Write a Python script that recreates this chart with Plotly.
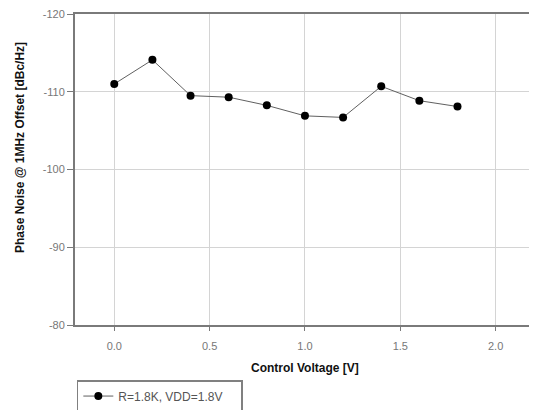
import plotly.graph_objects as go

control_voltage = [0.0, 0.2, 0.4, 0.6, 0.8, 1.0, 1.2, 1.4, 1.6, 1.8]
phase_noise = [-111.0, -114.1, -109.5, -109.3, -108.25, -106.9, -106.7, -110.7, -108.85, -108.1]
series_name = "R=1.8K, VDD=1.8V"

x_ticks = [0.0, 0.5, 1.0, 1.5, 2.0]
x_tick_labels = ["0.0", "0.5", "1.0", "1.5", "2.0"]
y_ticks = [-120, -110, -100, -90, -80]
y_tick_labels = ["-120", "-110", "-100", "-90", "-80"]

FONT = "Liberation Sans, Arial, sans-serif"

fig = go.Figure()
fig.add_trace(go.Scatter(
    x=control_voltage, y=phase_noise, mode="lines+markers", name=series_name,
    line=dict(color="#606060", width=1),
    marker=dict(color="black", size=8, symbol="circle"),
))

fig.update_layout(
    width=529, height=402,
    margin=dict(l=67, r=4, t=6, b=85, autoexpand=False),
    paper_bgcolor="white", plot_bgcolor="white",
    font=dict(family=FONT, size=11, color="#666666"),
    showlegend=True,
    legend=dict(
        x=0.004, y=-0.177, xanchor="left", yanchor="top",
        orientation="h", entrywidth=118,
        bordercolor="#808080", borderwidth=1.5, bgcolor="white",
        font=dict(family=FONT, size=12, color="#555555"),
        itemwidth=30,
    ),
    xaxis=dict(
        range=[-0.206, 2.196], tickvals=x_ticks, ticktext=x_tick_labels,
        showgrid=True, gridcolor="#d4d4d4", gridwidth=1, zeroline=False,
        showline=True, linecolor="#7a7a7a", linewidth=2, mirror=True,
        ticks="outside", ticklen=4, tickcolor="#7a7a7a", ticklabelstandoff=6,
        tickfont=dict(color="#777777", size=11), automargin=False,
        ticklabeloverflow="allow",
    ),
    yaxis=dict(
        range=[-80, -120], tickvals=y_ticks, ticktext=y_tick_labels,
        showgrid=True, gridcolor="#d4d4d4", gridwidth=1, zeroline=False,
        showline=True, linecolor="#7a7a7a", linewidth=2, mirror=True,
        ticks="outside", ticklen=6, tickcolor="#7a7a7a",
        tickfont=dict(color="#777777", size=11), automargin=False,
        ticklabeloverflow="allow",
    ),
    annotations=[
        dict(text="<b>Control Voltage [V]</b>", xref="paper", yref="paper",
             x=(305 - 75) / 458, y=-(368 - 325) / 311, xanchor="center", yanchor="middle",
             showarrow=False, font=dict(family=FONT, size=12, color="#111111")),
        dict(text="<b>Phase Noise @ 1MHz Offset [dBc/Hz]</b>", xref="paper", yref="paper",
             x=-(75 - 20) / 458, y=(325 - 148) / 311, xanchor="center", yanchor="middle",
             textangle=-90, showarrow=False,
             font=dict(family=FONT, size=12, color="#111111")),
    ],
)

fig.write_html("out.html")
